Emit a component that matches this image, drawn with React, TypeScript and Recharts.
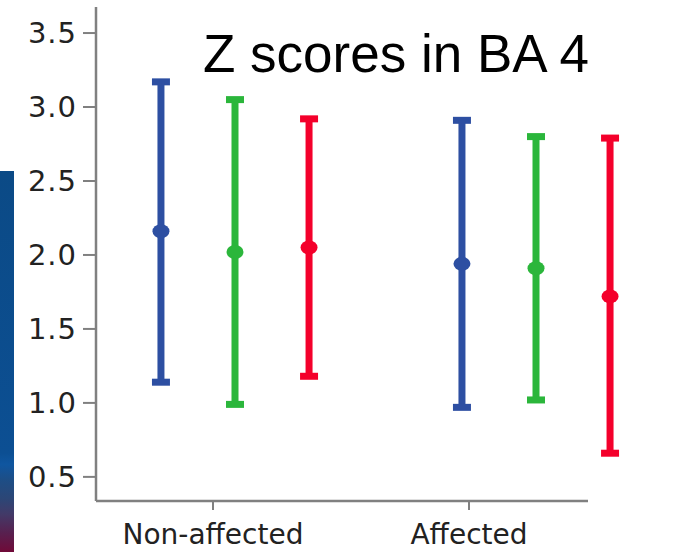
import { ComposedChart, Scatter, ErrorBar, XAxis, YAxis } from "recharts";

const categories = ["Non-affected", "Affected"];
const yTicks = [0.5, 1.0, 1.5, 2.0, 2.5, 3.0, 3.5];

const blueMean = [2.16, 1.94];
const blueLow = [1.14, 0.97];
const blueHigh = [3.17, 2.91];

const greenMean = [2.02, 1.91];
const greenLow = [0.99, 1.02];
const greenHigh = [3.05, 2.8];

const redMean = [2.05, 1.72];
const redLow = [1.18, 0.66];
const redHigh = [2.92, 2.79];

const W = 692;
const H = 552;
const axisGrey = "#808080";
const tickFont = "DejaVu Sans, sans-serif";

// the overlaid bars sit a bit off the category ticks in the original slide
const offsets = [-0.246, 0, 0.246];

function rows(mean: number[], low: number[], high: number[], off: number) {
  return categories.map((name, i) => ({
    name,
    x: i + off,
    y: mean[i],
    err: [mean[i] - low[i], high[i] - mean[i]],
  }));
}

const series = [
  { key: "blue", color: "#2d4fa2", data: rows(blueMean, blueLow, blueHigh, offsets[0]) },
  { key: "green", color: "#2bb63b", data: rows(greenMean, greenLow, greenHigh, offsets[1]) },
  { key: "red", color: "#f4002b", data: rows(redMean, redLow, redHigh, offsets[2]) },
];

const catRows = categories.map((name, i) => ({ name, idx: i }));

export default function App() {
  return (
    <div style={{ position: "absolute", left: 0, top: 0, width: W, height: H, background: "#fff" }}>
      <div
        style={{
          position: "absolute",
          left: 0,
          top: 171,
          width: 14,
          height: H - 171,
          background:
            "linear-gradient(to bottom, #0b4a86 0%, #0c4f93 74%, #0f56a0 77%, #1d4e86 81%, #2c4676 86%, #423a68 90%, #58204f 95%, #700a38 100%)",
        }}
      />
      <ComposedChart
        width={W}
        height={H}
        data={catRows}
        margin={{ top: 7, right: 52, left: 0, bottom: 0 }}
        style={{ position: "absolute", left: 0, top: 0 }}
      >
        <XAxis
          xAxisId="cat"
          dataKey="idx"
          type="number"
          domain={[-0.457, 1.668]}
          allowDataOverflow
          ticks={[0, 1]}
          tickFormatter={(v: number) => categories[v] ?? ""}
          height={51}
          axisLine={{ stroke: axisGrey, strokeWidth: 2.5, strokeDasharray: "492 200" }}
          tickLine={{ stroke: axisGrey, strokeWidth: 2 }}
          tickSize={9}
          tickMargin={14}
          tick={{ fontSize: 28, fontFamily: tickFont, fill: "#222" }}
        />
        <XAxis
          xAxisId="pos"
          dataKey="x"
          type="number"
          domain={[-0.4618, 1.3455]}
          allowDataOverflow
          hide
        />
        <YAxis
          type="number"
          domain={[0.337, 3.676]}
          allowDataOverflow
          ticks={yTicks}
          tickFormatter={(v: number) => v.toFixed(1)}
          width={96}
          axisLine={{ stroke: axisGrey, strokeWidth: 2.5 }}
          tickLine={{ stroke: axisGrey, strokeWidth: 2 }}
          tickSize={13}
          tickMargin={6}
          tick={{ fontSize: 29, fontFamily: tickFont, fill: "#222", letterSpacing: 1 }}
        />
        {series.map((s) => (
          <Scatter
            key={s.key}
            xAxisId="pos"
            data={s.data}
            dataKey="y"
            isAnimationActive={false}
            shape={(p: any) => <ellipse cx={p.cx} cy={p.cy} rx={8.5} ry={7} fill={s.color} />}
          >
            <ErrorBar
              dataKey="err"
              direction="y"
              width={9}
              strokeWidth={7}
              stroke={s.color}
              isAnimationActive={false}
            />
          </Scatter>
        ))}
      </ComposedChart>
      <svg width={W} height={H} style={{ position: "absolute", left: 0, top: 0, pointerEvents: "none" }}>
        <text x={203} y={72} fontFamily="Liberation Sans, Arial, sans-serif" fontSize={53} fill="#000">
          Z scores in BA 4
        </text>
      </svg>
    </div>
  );
}
